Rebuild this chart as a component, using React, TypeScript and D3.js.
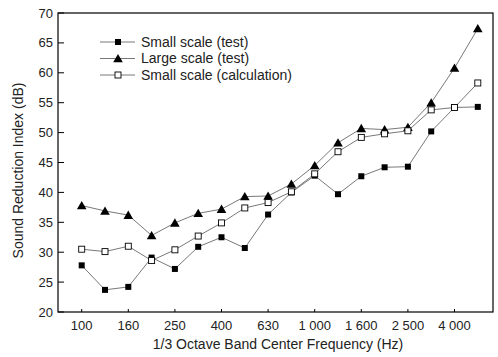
import React from "react";
import * as d3 from "d3";

const bands = ["100", "125", "160", "200", "250", "315", "400", "500", "630", "800", "1000", "1250", "1600", "2000", "2500", "3150", "4000", "5000"];
const tickBands = ["100", "160", "250", "400", "630", "1000", "1600", "2500", "4000"];
const tickText: Record<string, string> = { "1000": "1 000", "1600": "1 600", "2500": "2 500", "4000": "4 000" };

const smallTest = [27.8, 23.7, 24.2, 29.1, 27.2, 30.9, 32.5, 30.7, 36.3, 40.0, 42.8, 39.7, 42.7, 44.2, 44.3, 50.2, 54.2, 54.3];
const largeTest = [37.8, 36.9, 36.2, 32.8, 34.9, 36.5, 37.2, 39.3, 39.4, 41.4, 44.5, 48.3, 50.7, 50.5, 50.9, 55.0, 60.8, 67.4];
const smallCalc = [30.5, 30.1, 31.0, 28.6, 30.4, 32.7, 34.9, 37.4, 38.3, 40.1, 43.1, 46.8, 49.2, 49.8, 50.3, 53.8, 54.2, 58.3];
const yTicks = [20, 25, 30, 35, 40, 45, 50, 55, 60, 65, 70];

const W = 498, H = 357;
const L = 58, R = 493, T = 13, B = 312;
const FONT = "'Liberation Sans', Arial, sans-serif";

type Kind = "square" | "triangle" | "open";

const Marker = ({ kind, x, y }: { kind: Kind; x: number; y: number }) => {
  if (kind === "triangle") {
    const p = d3.symbol(d3.symbolTriangle, 40)();
    return <path d={p || ""} transform={`translate(${x},${y + 1})`} fill="#000" />;
  }
  const s = 6;
  return (
    <rect x={x - s / 2} y={y - s / 2} width={s} height={s}
      fill={kind === "open" ? "#fff" : "#000"} stroke="#000" strokeWidth={kind === "open" ? 0.9 : 0} />
  );
};

const series: { name: string; values: number[]; kind: Kind }[] = [
  { name: "Small scale (test)", values: smallTest, kind: "square" },
  { name: "Large scale (test)", values: largeTest, kind: "triangle" },
  { name: "Small scale (calculation)", values: smallCalc, kind: "open" },
];

export default function App() {
  const x = d3.scalePoint<string>().domain(bands).range([81.7, 477.8]);
  const y = d3.scaleLinear().domain([20, 70]).range([B, T]);
  const line = d3.line<number>().x((_, i) => x(bands[i]) as number).y((v) => y(v));

  return (
    <svg width={W} height={H} style={{ position: "absolute", left: 0, top: 0, background: "#fff" }}
      fontFamily={FONT}>
      <rect x={L} y={T} width={R - L} height={B - T} fill="none" stroke="#000" strokeWidth={1.2} />
      {yTicks.map((t) => (
        <g key={t}>
          <line x1={L} x2={L + 6} y1={y(t)} y2={y(t)} stroke="#000" strokeWidth={1} />
          <text x={L - 5} y={y(t)} dy="0.35em" textAnchor="end" fontSize={13} fill="#222">{t}</text>
        </g>
      ))}
      {tickBands.map((b) => (
        <g key={b}>
          <line x1={x(b)} x2={x(b)} y1={B} y2={B - 3} stroke="#000" strokeWidth={1} />
          <text x={x(b)} y={B + 18} textAnchor="middle" fontSize={13} fill="#222">{tickText[b] || b}</text>
        </g>
      ))}
      <text x={278} y={349} textAnchor="middle" fontSize={14} fill="#222">1/3 Octave Band Center Frequency (Hz)</text>
      <text transform={`translate(23,${(T + B) / 2 + 8}) rotate(-90)`} textAnchor="middle" fontSize={14} fill="#222">
        Sound Reduction Index (dB)
      </text>

      {series.map((s) => (
        <g key={s.name}>
          <path d={line(s.values) || ""} fill="none" stroke="#555" strokeWidth={0.8} />
          {s.values.map((v, i) => (
            <Marker key={i} kind={s.kind} x={x(bands[i]) as number} y={y(v)} />
          ))}
        </g>
      ))}

      {series.map((s, i) => {
        const ly = 42 + i * 16.5;
        return (
          <g key={s.name}>
            <line x1={100} x2={135} y1={ly} y2={ly} stroke="#555" strokeWidth={0.8} />
            <Marker kind={s.kind} x={118} y={ly} />
            <text x={141} y={ly} dy="0.35em" fontSize={14} fill="#222">{s.name}</text>
          </g>
        );
      })}
    </svg>
  );
}
